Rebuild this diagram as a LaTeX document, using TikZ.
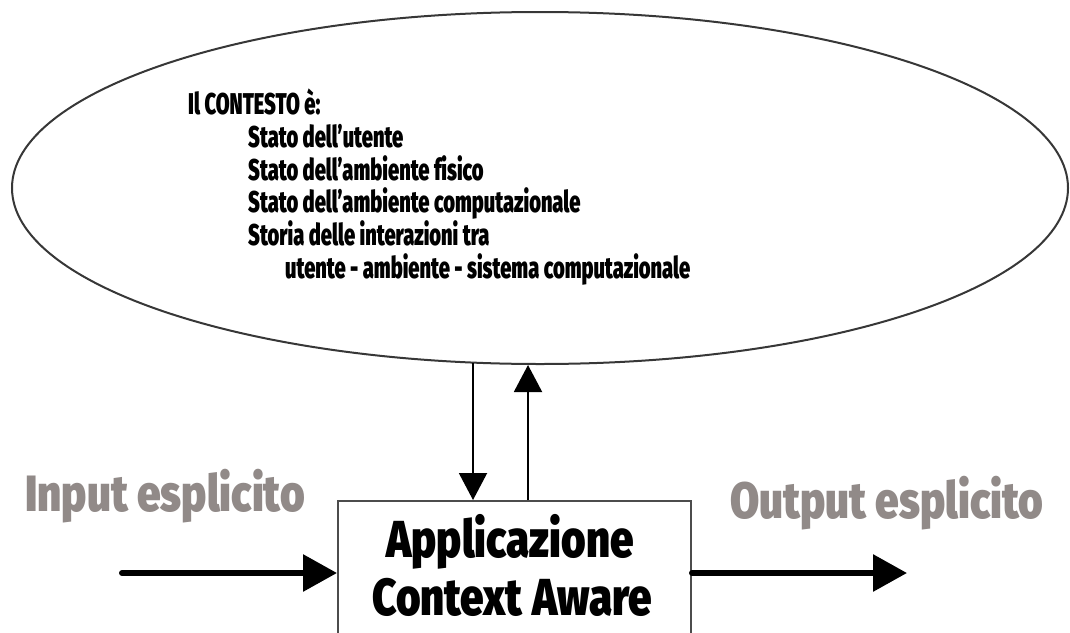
\documentclass[tikz,border=0pt]{standalone}
\usepackage{fontspec}
\usetikzlibrary{arrows.meta,shapes.geometric}
\newfontfamily\listfont{Fira Sans}[UprightFont=* Black,FakeStretch=0.67,Ligatures=NoCommon]
\newfontfamily\boxfont{Fira Sans}[UprightFont=* Black,FakeStretch=0.81,Ligatures=NoCommon]
\newfontfamily\sidefont{Fira Sans}[UprightFont=* Black,FakeStretch=0.83,Ligatures=NoCommon]
\definecolor{sidegray}{RGB}{145,138,136}
\definecolor{edgegray}{RGB}{55,55,55}
\begin{document}
\begin{tikzpicture}[x=1pt,y=-1pt,
  listline/.style={anchor=base west,inner sep=0pt,font=\listfont\fontsize{30}{30}\selectfont},
  boxline/.style={anchor=base,inner sep=0pt,font=\boxfont\fontsize{52}{52}\selectfont},
  sidelabel/.style={anchor=base west,inner sep=0pt,text=sidegray,font=\sidefont\fontsize{51}{51}\selectfont},
  thinarrow/.style={line width=2pt,-{Triangle[length=27pt,width=28pt]}},
  thickarrow/.style={line width=6pt,line cap=round,-{Triangle[length=34pt,width=36pt]}},
]
\useasboundingbox (0,0) rectangle (1070,632);
\clip (0,0) rectangle (1070,632);

% context ellipse
\node (ctx) [ellipse,draw=edgegray,line width=2pt,inner sep=0pt,
  minimum width=1056pt,minimum height=352pt] at (540,188) {};

\node (l1) [listline] at (188,114) {Il CONTESTO è:};
\node (l2) [listline] at (248,147.5) {Stato dell’utente};
\node (l3) [listline] at (248,180) {Stato dell’ambiente fisico};
\node (l4) [listline] at (248,212.5) {Stato dell’ambiente computazionale};
\node (l5) [listline] at (248,245) {Storia delle interazioni tra};
\node (l6) [listline] at (285,278) {utente - ambiente - sistema computazionale};

% application box (its lower edge lies below the page)
\node (app) [draw=black!70,line width=2pt,rectangle,inner sep=0pt,
  minimum width=353pt,minimum height=160pt] at (514.5,581) {};
\node (t1) [boxline] at (510,557) {Applicazione};
\node (t2) [boxline] at (512,615) {Context Aware};

% exchange between context and application
\coordinate (dn) at (473,363);
\coordinate (up) at (528,365);
\draw[thinarrow] (dn) -- (dn |- app.north);
\draw[thinarrow] (up |- app.north) -- (up);

% explicit input and output
\node (inl) [sidelabel] at (25,511) {Input esplicito};
\node (outl) [sidelabel] at (730,518) {Output esplicito};
\coordinate (inStart) at (122,573);
\coordinate (outEnd) at (907,573);
\draw[thickarrow] (inStart) -- (app.west |- inStart);
\draw[thickarrow] (app.east |- outEnd) -- (outEnd);
\end{tikzpicture}
\end{document}
